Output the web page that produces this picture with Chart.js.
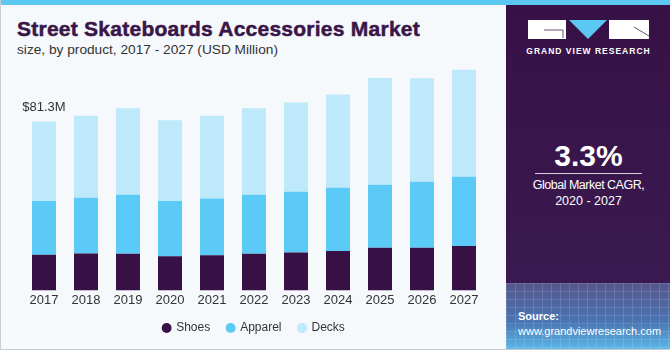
<!DOCTYPE html>
<html>
<head>
<meta charset="utf-8">
<script src="https://cdn.jsdelivr.net/npm/chart.js@4/dist/chart.umd.min.js"></script>
<style>
    body { margin: 0; }
    #page {
        position: relative;
        width: 670px;
        height: 350px;
        background: #f5f9fc;
        overflow: hidden;
        font-family: "Liberation Sans", Arial, sans-serif;
        box-sizing: border-box;
        border-left: 1px solid #c9cdd1;
        border-bottom: 1px solid #c9cdd1;
    }
    #stripe {
        position: absolute; left: 0; top: 0; width: 670px; height: 5px;
        background: #5bc8f3;
    }
    #title {
        position: absolute; left: 16px; top: 17px;
        font-size: 21px; font-weight: bold; color: #3a1548;
        white-space: nowrap; letter-spacing: 0.25px;
        -webkit-text-stroke: 0.5px #3a1548;
    }
    #subtitle {
        position: absolute; left: 16px; top: 42px;
        font-size: 13.7px; color: #333; white-space: nowrap;
    }
    #chartBox {
        position: absolute; left: 0; top: 60px; width: 500px; height: 289px;
    }
    #panel {
        position: absolute; left: 505px; top: 5px; width: 165px; height: 345px;
        background: linear-gradient(to bottom, #371146 0%, #3a1a50 80.5%, #55568c 80.6%, #4a75b3 92%, #5cb9ea 100%);
        color: #fff;
    }
    #panel .mesh {
        position: absolute; left: 0; top: 278px; width: 165px; height: 67px;
        background:
            repeating-linear-gradient(to right, rgba(255,255,255,0.12) 0 1px, transparent 1px 9px),
            repeating-linear-gradient(to bottom, rgba(255,255,255,0.12) 0 1px, transparent 1px 8px);
    }
    #panel .brand {
        position: absolute; left: 0; width: 165px; top: 41px; text-align: center;
        font-size: 8.5px; font-weight: bold; letter-spacing: 1px;
    }
    #panel .cagr {
        position: absolute; left: 0; width: 165px; top: 134px; text-align: center;
        font-size: 30px; font-weight: bold;
    }
    #panel .rule {
        position: absolute; left: 29px; width: 107px; top: 168px; height: 1px;
        background: #d8d0dc;
    }
    #panel .desc {
        position: absolute; left: 0; width: 165px; top: 172px; text-align: center;
        font-size: 12.5px; line-height: 16px;
    }
    #panel .desc .l1 { letter-spacing: -0.5px; }
    #panel .src {
        position: absolute; left: 12px; top: 304px;
        font-size: 11px; line-height: 15px;
    }
</style>
</head>
<body>
<div id="page">
    <div id="stripe"></div>
    <div id="title">Street Skateboards Accessories Market</div>
    <div id="subtitle">size, by product, 2017 - 2027 (USD Million)</div>
    <div id="chartBox"><canvas id="marketChart"></canvas></div>
    <div id="panel">
        <div class="mesh"></div>
        <svg width="165" height="40" style="position:absolute;left:0;top:0">
            <rect x="22" y="15" width="38" height="19" fill="#fff"/>
            <path d="M38 25 H57 V33" stroke="#6a5478" stroke-width="1" fill="none"/>
            <polygon points="63,15 101,15 82,34" fill="#5bc8f3"/>
            <rect x="103" y="15" width="40" height="19" fill="#fff"/>
            <path d="M128 22 L143 31" stroke="#6a5478" stroke-width="1"/>
        </svg>
        <div class="brand">GRAND VIEW RESEARCH</div>
        <div class="cagr">3.3%</div>
        <div class="rule"></div>
        <div class="desc"><span class="l1">Global Market CAGR,</span><br>2020 - 2027</div>
        <div class="src"><b>Source:</b><br>www.grandviewresearch.com</div>
    </div>
</div>

<script>
// data (USD million)
const years = ["2017", "2018", "2019", "2020", "2021", "2022", "2023", "2024", "2025", "2026", "2027"];
const shoes = [17.2, 17.8, 17.7, 16.4, 16.9, 17.7, 18.3, 19.0, 20.6, 20.6, 21.4];
const apparel = [25.8, 26.8, 28.4, 26.6, 27.3, 28.4, 29.2, 30.4, 30.3, 31.7, 33.3];
const decks = [38.3, 39.5, 41.6, 38.9, 39.9, 41.6, 43.0, 45.0, 51.4, 49.9, 51.6];

const FONT = "'Liberation Sans', Arial, sans-serif";

// total label over the first bar
const firstTotal = {
    id: "firstTotal",
    afterDatasetsDraw(chart) {
        const total = shoes[0] + apparel[0] + decks[0];
        const x = chart.scales.x.getPixelForValue(0);
        const y = chart.scales.y.getPixelForValue(total);
        const ctx = chart.ctx;
        ctx.save();
        ctx.font = "13px " + FONT;
        ctx.fillStyle = "#333";
        ctx.textAlign = "center";
        ctx.textBaseline = "middle";
        ctx.fillText("$" + total.toFixed(1) + "M", x, y - 14);
        ctx.restore();
    }
};

// keep wide gaps between legend items but draw the row a bit higher
const legendLift = {
    id: "legendLift",
    beforeInit(chart) {
        const legend = chart.legend;
        const draw = legend.draw;
        legend.draw = function () {
            this.ctx.save();
            this.ctx.translate(0, -5);
            draw.call(this);
            this.ctx.restore();
        };
    }
};

const ctx = document.getElementById("marketChart").getContext("2d");

new Chart(ctx, {
    type: "bar",
    data: {
        labels: years,
        datasets: [
            { label: "Shoes", data: shoes, backgroundColor: "#371146" },
            { label: "Apparel", data: apparel, backgroundColor: "#5bcaf6" },
            { label: "Decks", data: decks, backgroundColor: "#bde9fa" }
        ]
    },
    options: {
        responsive: true,
        maintainAspectRatio: false,
        animation: false,
        barPercentage: 0.571,
        categoryPercentage: 1,
        layout: {
            padding: { left: 22, right: 16, top: 2, bottom: 0 }
        },
        plugins: {
            tooltip: { enabled: false },
            legend: {
                position: "bottom",
                labels: {
                    usePointStyle: true,
                    pointStyle: "circle",
                    boxWidth: 7,
                    boxHeight: 7,
                    padding: 17,
                    color: "#333",
                    font: { family: FONT, size: 12 }
                }
            }
        },
        scales: {
            x: {
                stacked: true,
                grid: { display: false, drawTicks: false },
                border: { display: false },
                ticks: {
                    color: "#333",
                    padding: 2,
                    font: { family: FONT, size: 13 }
                }
            },
            y: {
                stacked: true,
                display: false,
                min: 0,
                max: 110
            }
        }
    },
    plugins: [firstTotal, legendLift]
});
</script>
</body>
</html>
